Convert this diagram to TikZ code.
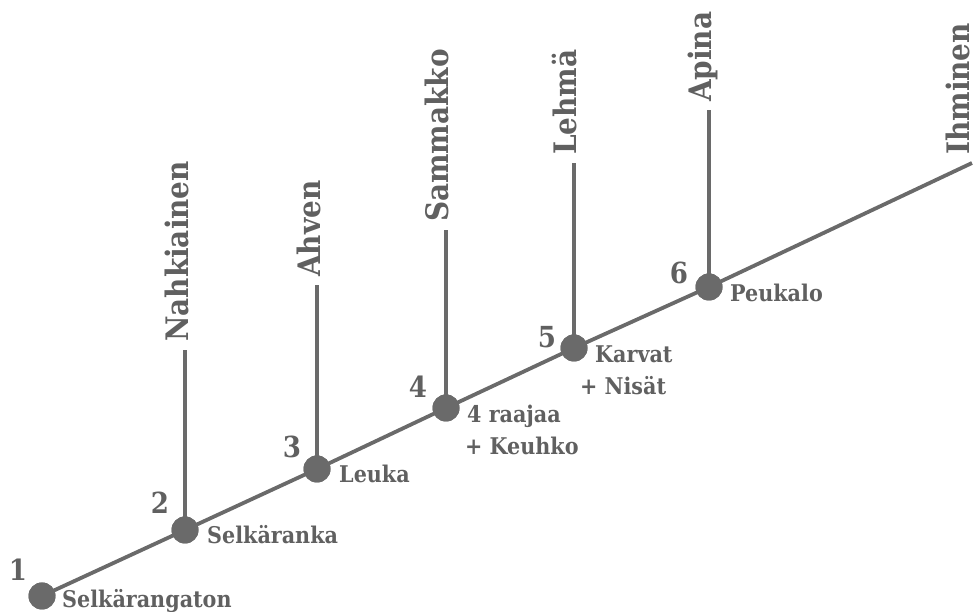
\documentclass[tikz,border=0pt]{standalone}
\usepackage{fontspec}
\setmainfont{DejaVu Serif Condensed}
\definecolor{cgray}{RGB}{106,106,106}
\definecolor{tgray}{RGB}{96,96,96}
\begin{document}
\begin{tikzpicture}[x=1pt,y=1pt,
  dot/.style={circle,fill=cgray,minimum size=27pt,inner sep=0pt},
  taxon/.style={rotate=90,anchor=west,inner sep=0pt,text height=0.72em,text depth=0pt,text=tgray,font=\fontsize{31}{35}\selectfont\bfseries},
  trait/.style={anchor=base west,inner sep=0pt,text=tgray,font=\fontsize{23}{27}\selectfont\bfseries},
  num/.style={inner sep=0pt,text=tgray,font=\fontsize{29}{33}\selectfont\bfseries},
  branch/.style={draw=cgray,line width=3.8pt}]
\useasboundingbox (0,0) rectangle (978,612);
% main axis nodes
\node[dot] (n1) at (42,16) {};
\node[dot] (n2) at (185,82) {};
\node[dot] (n3) at (317,143) {};
\node[dot] (n4) at (446,204) {};
\node[dot] (n5) at (574,264) {};
\node[dot] (n6) at (709,325) {};
\coordinate (e) at (972,449);
% branch tops
\coordinate (t2) at (185,262);
\coordinate (t3) at (317,327);
\coordinate (t4) at (446,382);
\coordinate (t5) at (574,449);
\coordinate (t6) at (709,502);
\draw[branch] (n1.center) -- (n2.center) -- (n3.center) -- (n4.center) -- (n5.center) -- (n6.center) -- (e);
\draw[branch] (n2.center) -- (t2);
\draw[branch] (n3.center) -- (t3);
\draw[branch] (n4.center) -- (t4);
\draw[branch] (n5.center) -- (t5);
\draw[branch] (n6.center) -- (t6);
% redraw dots on top
\foreach \p in {n1,n2,n3,n4,n5,n6} \node[dot] at (\p) {};
% taxa
\node[taxon] (l2) at (185,270) {Nahkiainen};
\node[taxon] (l3) at (317,335) {Ahven};
\node[taxon] (l4) at (445,390) {Sammakko};
\node[taxon] (l5) at (573,457) {Lehmä};
\node[taxon] (l6) at (708,510) {Apina};
\node[taxon] (l7) at (966,457) {Ihminen};
% traits
\node[trait] (s1) at (62,4) {Selkärangaton};
\node[trait] (s2) at (207,68) {Selkäranka};
\node[trait] (s3) at (339,129) {Leuka};
\node[trait] (s4a) at (467,189) {4 raajaa};
\node[trait] (s4b) at (465,157) {+ Keuhko};
\node[trait] (s5a) at (595,249) {Karvat};
\node[trait] (s5b) at (580,217) {+ Nisät};
\node[trait] (s6) at (730,310) {Peukalo};
% numbers
\node[num] (k1) at (18,42) {1};
\node[num] (k2) at (160,109) {2};
\node[num] (k3) at (292,165) {3};
\node[num] (k4) at (418,225) {4};
\node[num] (k5) at (547,275) {5};
\node[num] (k6) at (679,339) {6};
\end{tikzpicture}
\end{document}
